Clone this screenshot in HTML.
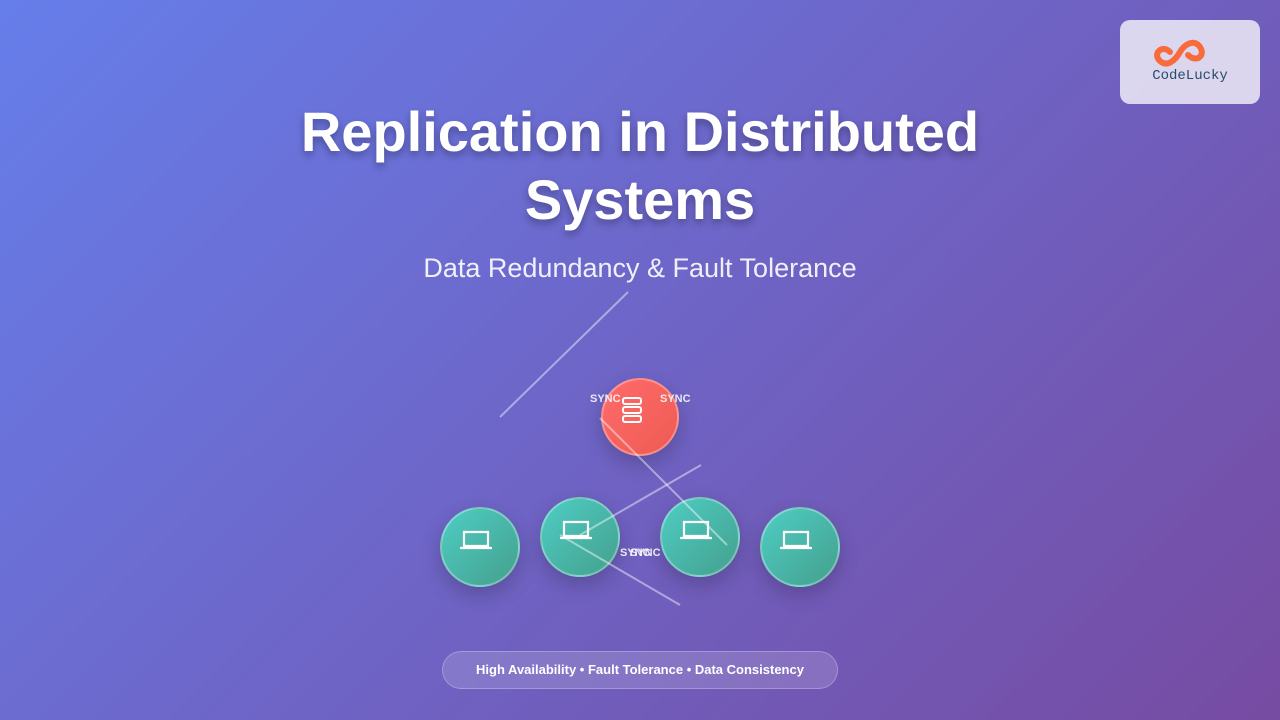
<!DOCTYPE html>
<html><head><meta charset="utf-8"><style>
body{margin:0;width:1280px;height:720px;overflow:hidden;font-family:"Liberation Sans",sans-serif;
background:linear-gradient(135deg,#667eea 0%,#764ba2 100%);position:relative}
.t{position:absolute;left:0;width:1280px;text-align:center;color:#fff}
.n{position:absolute;width:76px;height:76px;border-radius:50%;border:2px solid rgba(255,255,255,.3);box-shadow:0 8px 20px rgba(0,0,0,.2);box-sizing:border-box}
.g{background:linear-gradient(135deg,#4ecdc4,#44a08d)}
.s{position:absolute;color:#fff;font-size:11px;font-weight:bold;opacity:.85}
</style></head><body>
<div class="t" style="top:98px;font-size:56px;font-weight:bold;line-height:68px;text-shadow:0 4px 8px rgba(0,0,0,.3)">Replication in Distributed<br>Systems</div>
<div class="t" style="top:253px;font-size:27px;opacity:.9">Data Redundancy &amp; Fault Tolerance</div>
<div style="position:absolute;left:1120px;top:20px;width:140px;height:84px;border-radius:10px;background:rgba(255,255,255,.75)">
<svg width="140" height="84"><path d="M50 32c-8-8-18 2-10 9s16-2 20-9 14-14 20-5-4 16-12 8" fill="none" stroke="#f76b3c" stroke-width="6" stroke-linecap="round"/></svg>
<div style="position:absolute;top:48px;width:140px;text-align:center;font-size:14px;color:#2a4a6a;font-family:'Liberation Mono',monospace">CodeLucky</div></div>
<div class="n" style="left:601px;top:378px;width:78px;height:78px;background:linear-gradient(135deg,#ff6b6b,#ee5a52)"></div>
<svg style="position:absolute;left:622px;top:397px" width="20" height="28"><g fill="none" stroke="#fff" stroke-width="2"><rect x="1" y="1" width="18" height="6" rx="2"/><rect x="1" y="10" width="18" height="6" rx="2"/><rect x="1" y="19" width="18" height="6" rx="2"/></g></svg>
<div class="n g" style="left:440px;top:507px;width:80px;height:80px"></div>
<div class="n g" style="left:540px;top:497px;width:80px;height:80px"></div>
<div class="n g" style="left:660px;top:497px;width:80px;height:80px"></div>
<div class="n g" style="left:760px;top:507px;width:80px;height:80px"></div>
<svg style="position:absolute;left:0;top:0" width="1280" height="720">
<g fill="none" stroke="#fff" stroke-width="2.2">
<path d="M464 532h24v14h-24zM460 548h32"/><path d="M564 522h24v14h-24zM560 538h32"/><path d="M684 522h24v14h-24zM680 538h32"/><path d="M784 532h24v14h-24zM780 548h32"/></g>
<g stroke="rgba(255,255,255,.45)" stroke-width="2"><line x1="500" y1="417" x2="628" y2="292"/><line x1="600" y1="418" x2="727" y2="545"/><line x1="580" y1="535" x2="701" y2="465"/><line x1="560" y1="535" x2="680" y2="605"/></g></svg>
<div class="s" style="left:590px;top:393px">SYNC</div><div class="s" style="left:660px;top:393px">SYNC</div>
<div class="s" style="left:620px;top:547px">SYNC</div><div class="s" style="left:630px;top:547px">SYNC</div>
<div style="position:absolute;left:442px;top:651px;width:396px;height:38px;border-radius:19px;background:rgba(255,255,255,.15);border:1px solid rgba(255,255,255,.25);box-sizing:border-box;color:#fff;font-size:13px;font-weight:bold;text-align:center;line-height:36px">High Availability • Fault Tolerance • Data Consistency</div>
</body></html>
